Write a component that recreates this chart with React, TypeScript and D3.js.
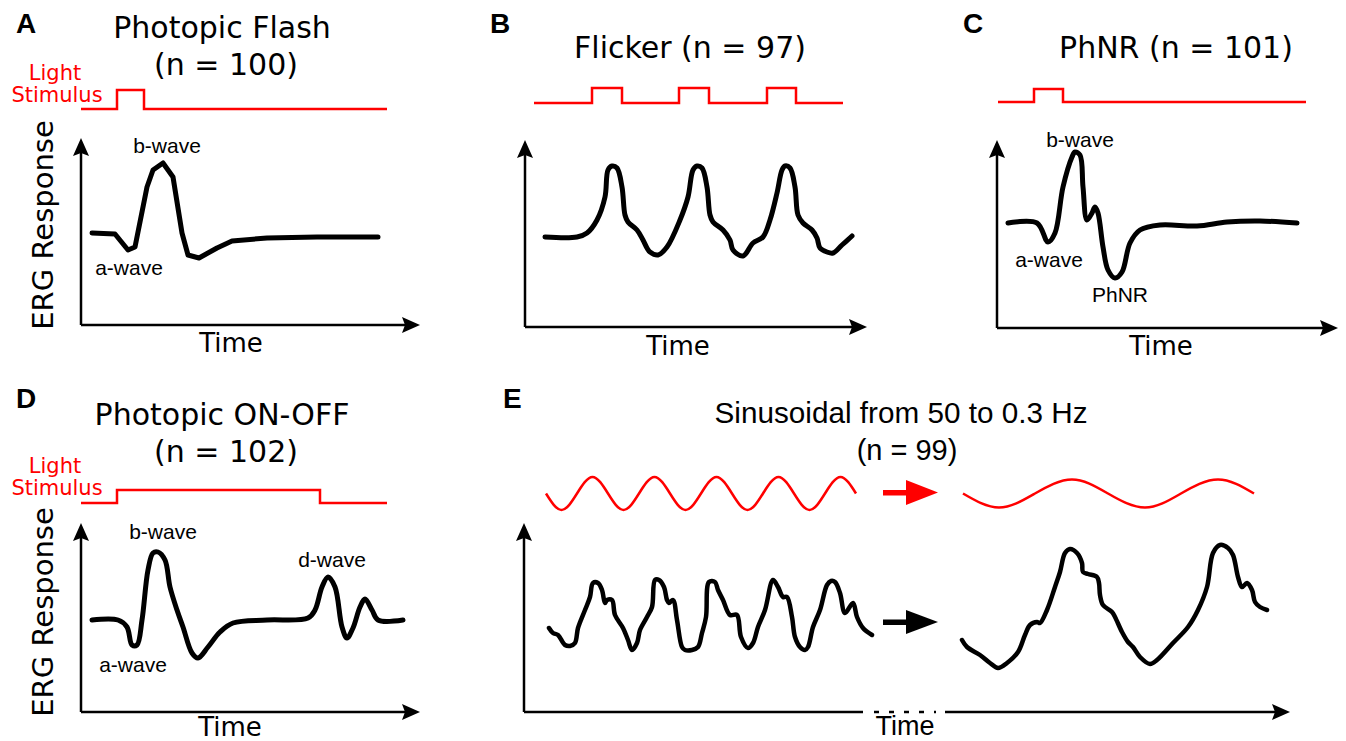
import React from 'react';
import * as d3 from 'd3';

// ---- A: photopic flash ----
const flashTime = [11, 34, 47, 54, 66, 72, 82, 92, 101, 107, 118, 136, 151, 186, 236, 297];
const flashResp = [92, 91, 75, 78, 138, 155, 162, 148, 92, 70, 67, 77, 84, 87, 88, 88];
const flashStimTime = [0, 36, 63, 306];
const flashStimLevel = [0, 1, 0, 0];

// ---- B: flicker ----
const flickerTime = [20, 52, 62, 72, 80, 83, 87, 92, 97, 100, 103, 112, 118, 122, 125, 133, 142, 155, 163, 168, 172, 177, 182, 185, 188, 198, 205, 208, 218, 228, 238, 245, 252, 257, 260, 265, 270, 273, 278, 287, 292, 295, 302, 308, 317, 327];
const flickerResp = [90, 90, 94, 107, 130, 157, 161, 159, 140, 112, 105, 97, 87, 79, 75, 72, 80, 107, 130, 157, 161, 159, 140, 112, 105, 97, 87, 77, 71, 84, 90, 107, 134, 157, 161, 159, 140, 112, 104, 97, 89, 79, 75, 74, 82, 91];
const flickerStimTime = [9, 67, 97, 154, 184, 242, 271, 318];
const flickerStimLevel = [0, 1, 0, 1, 0, 1, 0, 0];

// ---- C: PhNR ----
const phnrTime = [11, 40, 51, 58, 66, 75, 78, 83, 86, 90, 95, 98, 101, 106, 111, 118, 125, 133, 143, 163, 200, 230, 263, 300];
const phnrResp = [105, 105, 86, 95, 141, 171, 176, 173, 141, 108, 115, 121, 115, 81, 58, 50, 56, 85, 98, 103, 102, 106, 107, 105];
const phnrStimTime = [1, 37, 66, 309];
const phnrStimLevel = [0, 1, 0, 0];

// ---- D: photopic ON-OFF ----
const onoffTime = [11, 37, 46, 51, 56, 61, 67, 72, 77, 84, 89, 96, 102, 111, 117, 127, 139, 152, 186, 227, 234, 241, 247, 254, 261, 266, 272, 279, 284, 291, 297, 322];
const onoffResp = [92, 92, 85, 67, 67, 92, 142, 159, 160, 152, 125, 102, 85, 59, 54, 65, 80, 89, 92, 94, 102, 125, 135, 125, 85, 74, 84, 105, 113, 102, 92, 92];
const onoffStimTime = [0, 36, 239, 306];
const onoffStimLevel = [0, 1, 0, 0];

// ---- E: sinusoidal 50 -> 0.3 Hz ----
const sinFastTime = [25, 29, 34, 41, 46, 51, 54, 61, 66, 69, 74, 78, 81, 83, 88, 91, 99, 104, 108, 113, 116, 123, 128, 131, 135, 140, 143, 145, 149, 153, 158, 161, 168, 174, 178, 182, 185, 191, 194, 199, 206, 213, 217, 224, 229, 234, 241, 249, 254, 259, 263, 268, 271, 276, 281, 284, 289, 296, 303, 307, 311, 316, 321, 329, 333, 339, 348];
const sinFastResp = [84, 79, 77, 67, 66, 69, 84, 102, 115, 129, 129, 122, 109, 112, 112, 97, 84, 72, 62, 69, 82, 95, 105, 132, 132, 125, 112, 109, 112, 92, 65, 62, 62, 65, 79, 95, 130, 130, 122, 112, 97, 97, 75, 64, 69, 85, 102, 132, 125, 115, 115, 95, 75, 65, 62, 65, 85, 102, 127, 131, 130, 119, 99, 109, 95, 84, 77];
const sinSlowTime = [438, 443, 456, 466, 474, 483, 494, 501, 506, 513, 516, 523, 531, 536, 541, 546, 553, 558, 559, 564, 573, 575, 576, 579, 588, 591, 598, 604, 609, 616, 626, 633, 649, 664, 674, 683, 689, 696, 704, 709, 714, 718, 723, 728, 731, 736, 743];
const sinSlowResp = [72, 65, 57, 49, 44, 49, 60, 77, 87, 90, 89, 102, 125, 140, 159, 163, 159, 149, 140, 138, 135, 129, 117, 107, 100, 95, 80, 70, 65, 55, 48, 52, 69, 85, 102, 125, 159, 167, 164, 157, 135, 125, 129, 122, 110, 105, 102];
const stimFastTime = [22, 37.5, 53, 68.5, 84, 99.5, 115, 130.5, 146, 161.5, 177, 192.5, 208, 223.5, 239, 254.5, 270, 285.5, 301, 316.5, 332];
const stimFastLevel = [0, -1, 0, 1, 0, -1, 0, 1, 0, -1, 0, 1, 0, -1, 0, 1, 0, -1, 0, 1, 0];
const stimSlowTime = [439, 475, 511, 548, 584, 621, 657, 694, 730];
const stimSlowLevel = [0, -0.85, 0, 0.85, 0, -0.85, 0, 0.85, 0];

const SANS = "'DejaVu Sans', Verdana, sans-serif";
const ARIAL = "'Liberation Sans', Arial, sans-serif";
const RED = '#ff0000';

const zip = (a: number[], b: number[]) => a.map((d, i) => [d, b[i]] as [number, number]);

function frame(x0: number, y0: number, w: number, h: number) {
  const x = d3.scaleLinear().domain([0, w]).range([x0, x0 + w]);
  const y = d3.scaleLinear().domain([0, h]).range([y0, y0 - h]);
  return { x, y };
}

const upHead = (x: number, y: number) => `M${x},${y} L${x - 8},${y + 18} L${x},${y + 15} L${x + 8},${y + 18} Z`;
const rightHead = (x: number, y: number) => `M${x},${y} L${x - 18},${y - 8} L${x - 15},${y} L${x - 18},${y + 8} Z`;

const Axes = ({ x0, y0, w, h }: any) => (
  <g>
    <line x1={x0} y1={y0} x2={x0} y2={y0 - h + 14} stroke="#000" strokeWidth={2.5} />
    <line x1={x0} y1={y0} x2={x0 + w - 14} y2={y0} stroke="#000" strokeWidth={2.5} />
    <path d={upHead(x0, y0 - h)} fill="#000" />
    <path d={rightHead(x0 + w, y0)} fill="#000" />
  </g>
);

const Trace = ({ sx, sy, t, v, curve, width = 5 }: any) => {
  const line = d3.line<[number, number]>().x(d => sx(d[0])).y(d => sy(d[1])).curve(curve);
  return <path d={line(zip(t, v)) || ''} fill="none" stroke="#000" strokeWidth={width} strokeLinejoin="round" strokeLinecap="round" />;
};

const Stim = ({ sx, base, top, t, v, curve = d3.curveStepAfter, lo = 0, hi = 1 }: any) => {
  const sy = d3.scaleLinear().domain([lo, hi]).range([base, top]);
  const line = d3.line<[number, number]>().x(d => sx(d[0])).y(d => sy(d[1])).curve(curve);
  return <path d={line(zip(t, v)) || ''} fill="none" stroke={RED} strokeWidth={2.5} />;
};

const Letter = ({ x, y, c }: any) => (
  <text x={x} y={y} fontFamily={ARIAL} fontWeight="bold" fontSize={28}>{c}</text>
);

const Title = ({ x, y, children, size = 30, font = SANS, len }: any) => (
  <text x={x} y={y} textAnchor="middle" fontFamily={font} fontSize={size}
    {...(len ? { textLength: len, lengthAdjust: 'spacingAndGlyphs' } : {})}>{children}</text>
);

const Label = ({ x, y, children }: any) => (
  <text x={x} y={y} textAnchor="middle" fontFamily={ARIAL} fontSize={21}>{children}</text>
);

const LightLabel = ({ y }: any) => (
  <g fill={RED} fontFamily={SANS} fontSize={21} textAnchor="middle">
    <text x={55} y={y}>Light</text>
    <text x={57} y={y + 22}>Stimulus</text>
  </g>
);

const ErgLabel = ({ cy }: any) => (
  <text transform={`translate(53,${cy}) rotate(-90)`} textAnchor="middle" fontFamily={SANS} fontSize={29}>ERG Response</text>
);

export default function App() {
  const smooth = d3.curveCatmullRom.alpha(0.5);
  const A = frame(81, 325, 339, 187);
  const B = frame(525, 327, 342, 187);
  const C = frame(997, 328, 341, 188);
  const D = frame(81, 712, 339, 189);
  const E = frame(524, 712, 766, 189);

  return (
    <svg width={1346} height={741} style={{ position: 'absolute', left: 0, top: 0 }}>
      <rect width={1346} height={741} fill="#fff" />

      {/* A */}
      <Letter x={16} y={33} c="A" />
      <Title x={222} y={38}>Photopic Flash</Title>
      <Title x={226} y={75}>(n = 100)</Title>
      <LightLabel y={80} />
      <Stim sx={A.x} base={109} top={90} t={flashStimTime} v={flashStimLevel} />
      <ErgLabel cy={225} />
      <Axes x0={81} y0={325} w={339} h={187} />
      <Trace sx={A.x} sy={A.y} t={flashTime} v={flashResp} curve={d3.curveLinear} />
      <Label x={A.x(86)} y={A.y(172)}>b-wave</Label>
      <Label x={A.x(48)} y={A.y(50)}>a-wave</Label>
      <text x={231} y={352} textAnchor="middle" fontFamily={SANS} fontSize={26}>Time</text>

      {/* B */}
      <Letter x={490} y={33} c="B" />
      <Title x={690} y={58}>Flicker (n = 97)</Title>
      <Stim sx={B.x} base={103} top={88} t={flickerStimTime} v={flickerStimLevel} />
      <Axes x0={525} y0={327} w={342} h={187} />
      <Trace sx={B.x} sy={B.y} t={flickerTime} v={flickerResp} curve={smooth} />
      <text x={678} y={355} textAnchor="middle" fontFamily={SANS} fontSize={26}>Time</text>

      {/* C */}
      <Letter x={963} y={33} c="C" />
      <Title x={1176} y={58}>PhNR (n = 101)</Title>
      <Stim sx={C.x} base={102} top={89} t={phnrStimTime} v={phnrStimLevel} />
      <Axes x0={997} y0={328} w={341} h={188} />
      <Trace sx={C.x} sy={C.y} t={phnrTime} v={phnrResp} curve={smooth} />
      <Label x={C.x(83)} y={C.y(181)}>b-wave</Label>
      <Label x={C.x(52)} y={C.y(61)}>a-wave</Label>
      <Label x={C.x(123)} y={C.y(26)}>PhNR</Label>
      <text x={1161} y={355} textAnchor="middle" fontFamily={SANS} fontSize={26}>Time</text>

      {/* D */}
      <Letter x={16} y={408} c="D" />
      <Title x={222} y={425}>Photopic ON-OFF</Title>
      <Title x={226} y={462}>(n = 102)</Title>
      <LightLabel y={473} />
      <Stim sx={D.x} base={503} top={490} t={onoffStimTime} v={onoffStimLevel} />
      <ErgLabel cy={612} />
      <Axes x0={81} y0={712} w={339} h={189} />
      <Trace sx={D.x} sy={D.y} t={onoffTime} v={onoffResp} curve={smooth} />
      <Label x={D.x(82)} y={D.y(173)}>b-wave</Label>
      <Label x={D.x(52)} y={D.y(40)}>a-wave</Label>
      <Label x={D.x(251)} y={D.y(145)}>d-wave</Label>
      <text x={230} y={736} textAnchor="middle" fontFamily={SANS} fontSize={26}>Time</text>

      {/* E */}
      <Letter x={503} y={408} c="E" />
      <Title x={901} y={423} size={29} font={ARIAL} len={373}>Sinusoidal from 50 to 0.3 Hz</Title>
      <Title x={907} y={460} size={29} font={ARIAL}>(n = 99)</Title>
      <Stim sx={E.x} base={510} top={477} lo={-1} hi={1} t={stimFastTime} v={stimFastLevel} curve={d3.curveNatural} />
      <Stim sx={E.x} base={510} top={477} lo={-1} hi={1} t={stimSlowTime} v={stimSlowLevel} curve={d3.curveNatural} />
      <g fill={RED}>
        <rect x={883} y={490} width={26} height={5.5} />
        <path d="M938,492.5 L906,480 L906,505 Z" />
      </g>
      <g fill="#000">
        <rect x={883} y={619.5} width={26} height={5.5} />
        <path d="M938,622 L906,610 L906,634 Z" />
      </g>
      <line x1={524} y1={712} x2={524} y2={537} stroke="#000" strokeWidth={2.5} />
      <path d={upHead(524, 523)} fill="#000" />
      <line x1={524} y1={712} x2={863} y2={712} stroke="#000" strokeWidth={2.5} />
      <line x1={874} y1={712} x2={936} y2={712} stroke="#000" strokeWidth={2.5} strokeDasharray="5,10" />
      <line x1={945} y1={712} x2={1276} y2={712} stroke="#000" strokeWidth={2.5} />
      <path d={rightHead(1290, 712)} fill="#000" />
      <Trace sx={E.x} sy={E.y} t={sinFastTime} v={sinFastResp} curve={smooth} width={4.5} />
      <Trace sx={E.x} sy={E.y} t={sinSlowTime} v={sinSlowResp} curve={smooth} width={4.5} />
      <text x={905} y={735} textAnchor="middle" fontFamily={ARIAL} fontSize={27}>Time</text>
    </svg>
  );
}
